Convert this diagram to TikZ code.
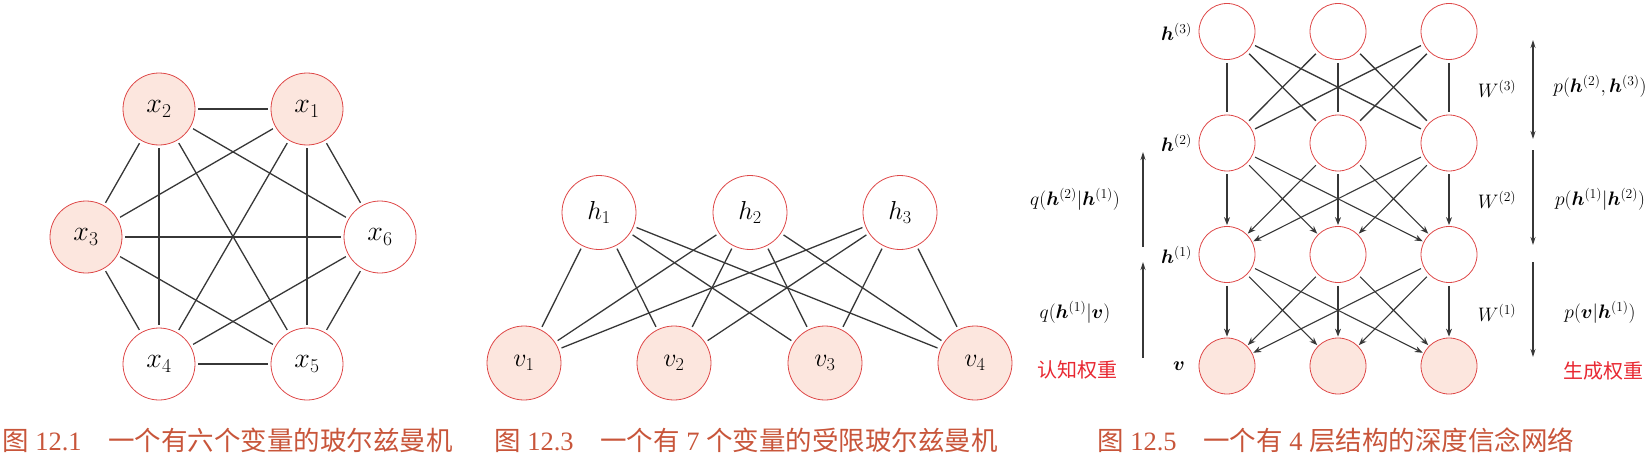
\RequirePackage{fix-cm}
\documentclass[tikz,border=0pt]{standalone}
\usepackage{fontspec}
\usepackage{bm}
\usetikzlibrary{arrows.meta}
\newfontfamily\cjk{Noto Sans CJK SC}
\newfontfamily\capserif{Liberation Serif}
\definecolor{nodered}{RGB}{222,72,72}
\definecolor{nodefill}{RGB}{252,230,222}
\definecolor{edgecol}{RGB}{55,55,55}
\definecolor{capcol}{RGB}{200,85,58}
\definecolor{redtxt}{RGB}{232,40,50}
\begin{document}
\begin{tikzpicture}[x=1pt,y=-1pt,
  vnode/.style={circle, draw=nodered, line width=0.8pt, inner sep=0pt},
  big/.style={vnode, minimum size=72pt, font=\fontsize{28}{32}\selectfont},
  mid/.style={vnode, minimum size=74pt, font=\fontsize{26}{30}\selectfont},
  small/.style={vnode, minimum size=56pt},
  obs/.style={fill=nodefill},
  edge/.style={draw=edgecol, line width=1.3pt, shorten <=3pt, shorten >=3pt},
  arr/.style={draw=edgecol, line width=1.1pt, shorten <=3pt, shorten >=1pt, -{Stealth[length=8pt,width=6pt]}},
  side/.style={draw=edgecol, line width=1.1pt},
  captxt/.style={text=capcol, font=\capserif\fontsize{26.5}{30}\selectfont, anchor=west, inner sep=0pt},
  lab/.style={font=\fontsize{19.5}{22}\selectfont, inner sep=0pt},
  redlab/.style={text=redtxt, font=\cjk\fontsize{20}{24}\selectfont, inner sep=0pt},
]
\useasboundingbox (0,0) rectangle (1650,455);

% ---------- Figure 12.1 ----------
\node[big,obs] (x1) at (307,109) {$x_1$};
\node[big,obs] (x2) at (159,109) {$x_2$};
\node[big,obs] (x3) at (86,237) {$x_3$};
\node[big] (x6) at (380,237) {$x_6$};
\node[big] (x4) at (159,364) {$x_4$};
\node[big] (x5) at (307,364) {$x_5$};
\foreach \a/\b in {x1/x2,x1/x3,x1/x4,x1/x5,x1/x6,x2/x3,x2/x4,x2/x5,x2/x6,x3/x4,x3/x5,x3/x6,x4/x5,x4/x6,x5/x6}
  \draw[edge] (\a) -- (\b);

% ---------- Figure 12.3 ----------
\node[mid] (h1) at (599,212.5) {$h_1$};
\node[mid] (h2) at (750,212.5) {$h_2$};
\node[mid] (h3) at (900,212.5) {$h_3$};
\node[mid,obs] (v1) at (524,363) {$v_1$};
\node[mid,obs] (v2) at (674,363) {$v_2$};
\node[mid,obs] (v3) at (825,363) {$v_3$};
\node[mid,obs] (v4) at (975,363) {$v_4$};
\foreach \a in {h1,h2,h3}
  \foreach \b in {v1,v2,v3,v4}
    \draw[edge] (\a) -- (\b);

% ---------- Figure 12.5 ----------
\foreach \c/\x in {1/1227,2/1338,3/1449}{
  \node[small] (a\c) at (\x,31.5) {};
  \node[small] (b\c) at (\x,143) {};
  \node[small] (c\c) at (\x,254.5) {};
  \node[small,obs] (d\c) at (\x,366) {};
}
\foreach \i in {1,2,3}
  \foreach \j in {1,2,3}{
    \draw[edge] (a\i) -- (b\j);
    \draw[arr] (b\i) -- (c\j);
    \draw[arr] (c\i) -- (d\j);
  }

\node[lab, anchor=east] (lh3) at (1192,31.5) {$\bm{h}^{(3)}$};
\node[lab, anchor=east] (lh2) at (1192,143) {$\bm{h}^{(2)}$};
\node[lab, anchor=east] (lh1) at (1192,254.5) {$\bm{h}^{(1)}$};
\node[lab, anchor=east] (lv) at (1185,366) {$\bm{v}$};

\coordinate (la1) at (1143,247);
\coordinate (la2) at (1143,152);
\coordinate (lb1) at (1143,358);
\coordinate (lb2) at (1143,262);
\draw[side,-{Stealth[length=8pt,width=5pt]}] (la1) -- (la2);
\draw[side,-{Stealth[length=8pt,width=5pt]}] (lb1) -- (lb2);

\coordinate (ra1) at (1533,40);
\coordinate (ra2) at (1533,139);
\coordinate (rb1) at (1533,150);
\coordinate (rb2) at (1533,245);
\coordinate (rc1) at (1533,262);
\coordinate (rc2) at (1533,357);
\draw[side,{Stealth[length=8pt,width=5pt]}-{Stealth[length=8pt,width=5pt]}] (ra1) -- (ra2);
\draw[side,-{Stealth[length=8pt,width=5pt]}] (rb1) -- (rb2);
\draw[side,-{Stealth[length=8pt,width=5pt]}] (rc1) -- (rc2);

\node[lab] (q2) at (1075,199) {$q(\bm{h}^{(2)}|\bm{h}^{(1)})$};
\node[lab] (q1) at (1075,312) {$q(\bm{h}^{(1)}|\bm{v})$};
\node[redlab] (rz) at (1077,370) {认知权重};

\node[lab] (w3) at (1497,89) {$W^{(3)}$};
\node[lab] (w2) at (1497,200) {$W^{(2)}$};
\node[lab] (w1) at (1497,313) {$W^{(1)}$};
\node[lab] (p3) at (1600,86) {$p(\bm{h}^{(2)},\bm{h}^{(3)})$};
\node[lab] (p2) at (1600,199) {$p(\bm{h}^{(1)}|\bm{h}^{(2)})$};
\node[lab] (p1) at (1600,312) {$p(\bm{v}|\bm{h}^{(1)})$};
\node[redlab] (sc) at (1603,371) {生成权重};

% ---------- Captions ----------
\node[captxt] (cap1) at (2,440) {{\cjk 图} 12.1\quad{\cjk 一个有六个变量的玻尔兹曼机}};
\node[captxt] (cap2) at (494,440) {{\cjk 图} 12.3\quad{\cjk 一个有} 7 {\cjk 个变量的受限玻尔兹曼机}};
\node[captxt] (cap3) at (1097,440) {{\cjk 图} 12.5\quad{\cjk 一个有} 4 {\cjk 层结构的深度信念网络}};
\end{tikzpicture}
\end{document}
